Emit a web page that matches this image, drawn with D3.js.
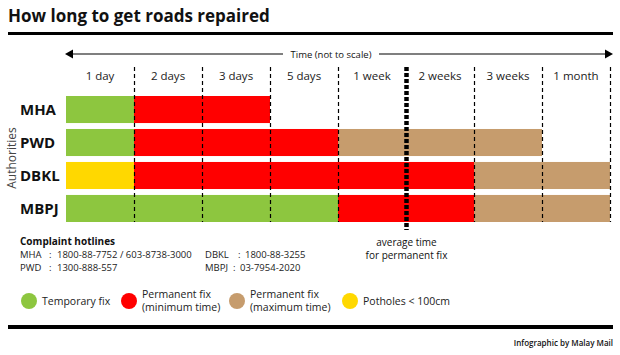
<!DOCTYPE html>
<html><head><meta charset="utf-8">
<script src="https://cdn.jsdelivr.net/npm/d3@7"></script>
<style>body{margin:0;background:#fff}svg{display:block}text{font-family:"Open Sans",sans-serif}</style>
</head><body><svg id="c" width="620" height="355"></svg>
<script>
const title = "How long to get roads repaired";
const columns = ["1 day","2 days","3 days","5 days","1 week","2 weeks","3 weeks","1 month"];
const authorities = ["MHA","PWD","DBKL","MBPJ"];
// last column each phase reaches (phase starts where the previous one ended)
const temporaryUntil = ["1 day","1 day","1 day","5 days"];
const temporaryType = ["temporary","temporary","pothole","temporary"];
const minimumUntil = ["3 days","5 days","2 weeks","2 weeks"];
const maximumUntil = [null,"3 weeks","1 month","1 month"];
const averagePermanent = "1 week"; // average time ends after this column
const hotlines = [
  ["MHA","1800-88-7752 / 603-8738-3000"],
  ["PWD","1300-888-557"],
  ["DBKL","1800-88-3255"],
  ["MBPJ","03-7954-2020"]
];
const legendItems = [
  {key:"temporary", lines:["Temporary fix"]},
  {key:"minimum", lines:["Permanent fix","(minimum time)"]},
  {key:"maximum", lines:["Permanent fix","(maximum time)"]},
  {key:"pothole", lines:["Potholes < 100cm"]}
];
const colors = {temporary:"#8dc63f", minimum:"#ff0000", maximum:"#c69c6d", pothole:"#ffd800"};

const svg = d3.select("#c");
const x = d3.scaleBand().domain(columns).range([66,610]).padding(0);
const y = d3.scaleBand().domain(authorities).range([96,222]).paddingInner(0.18).paddingOuter(0);
const xEnd = c => x(c) + x.bandwidth();

// title
svg.append("text").attr("x",8).attr("y",22).attr("font-size",17).attr("font-weight",700).attr("fill","#111").text(title);
svg.append("rect").attr("x",8).attr("y",32).attr("width",605).attr("height",3).attr("fill","#000");

// time arrow
const ay = 54;
svg.append("text").attr("x",331).attr("y",ay+3.5).attr("text-anchor","middle").attr("font-size",9.5).attr("fill","#111").text("Time (not to scale)");
svg.append("line").attr("x1",72).attr("x2",283).attr("y1",ay).attr("y2",ay).attr("stroke","#000").attr("stroke-width",1.2);
svg.append("line").attr("x1",379).attr("x2",606).attr("y1",ay).attr("y2",ay).attr("stroke","#000").attr("stroke-width",1.2);
svg.append("path").attr("d",`M65,${ay} L73,${ay-4.5} L73,${ay+4.5} Z`).attr("fill","#000");
svg.append("path").attr("d",`M613,${ay} L605,${ay-4.5} L605,${ay+4.5} Z`).attr("fill","#000");

// column labels
svg.selectAll(".col").data(columns).join("text")
  .attr("x",d=>x(d)+x.bandwidth()/2).attr("y",80).attr("text-anchor","middle")
  .attr("font-size",11.5).attr("fill","#222").text(d=>d);

// bars
const segs = [];
authorities.forEach((a,i)=>{
  segs.push({a, x0:x(columns[0]), x1:xEnd(temporaryUntil[i]), key:temporaryType[i]});
  segs.push({a, x0:xEnd(temporaryUntil[i]), x1:xEnd(minimumUntil[i]), key:"minimum"});
  if (maximumUntil[i]) segs.push({a, x0:xEnd(minimumUntil[i]), x1:xEnd(maximumUntil[i]), key:"maximum"});
});
svg.selectAll(".bar").data(segs).join("rect")
  .attr("x",d=>d.x0).attr("width",d=>d.x1-d.x0)
  .attr("y",d=>y(d.a)).attr("height",y.bandwidth())
  .attr("fill",d=>colors[d.key]);

// dashed column boundaries
const bounds = columns.filter(c=>c!==averagePermanent);
svg.selectAll(".grid").data(bounds).join("line")
  .attr("x1",d=>xEnd(d)+0.5).attr("x2",d=>xEnd(d)+0.5).attr("y1",67).attr("y2",222)
  .attr("stroke","#000").attr("stroke-width",1.2).attr("stroke-dasharray","4,3");
// average line
const avx = xEnd(averagePermanent)+0.5;
svg.append("line").attr("x1",avx).attr("x2",avx).attr("y1",67).attr("y2",230)
  .attr("stroke","#000").attr("stroke-width",4.5).attr("stroke-dasharray","4,2");
svg.append("text").attr("x",avx).attr("y",246).attr("text-anchor","middle").attr("font-size",10).attr("fill","#111").text("average time");
svg.append("text").attr("x",avx).attr("y",259).attr("text-anchor","middle").attr("font-size",10).attr("fill","#111").text("for permanent fix");

// row labels
svg.selectAll(".rl").data(authorities).join("text")
  .attr("x",20).attr("y",d=>y(d)+y.bandwidth()/2+5.5)
  .attr("font-family","Liberation Sans, Arial, sans-serif").attr("font-weight",700).attr("font-size",15).attr("fill","#111").text(d=>d);
svg.append("text").attr("transform","translate(16,158) rotate(-90)").attr("text-anchor","middle")
  .attr("font-size",12).attr("fill","#444").text("Authorities");

// hotlines
svg.append("text").attr("x",20).attr("y",245).attr("font-size",10).attr("font-weight",700).attr("fill","#111").text("Complaint hotlines");
const hx = [[20,49,57],[20,49,57],[205,238,245],[205,233,240]];
hotlines.forEach((h,i)=>{
  const row = i%2, yy = 258 + row*13;
  const g = svg.append("g");
  g.append("text").attr("x",hx[i][0]).attr("y",yy).attr("font-size",9.5).attr("fill","#222").text(h[0]);
  g.append("text").attr("x",hx[i][1]).attr("y",yy).attr("font-size",9.5).attr("fill","#222").text(":");
  g.append("text").attr("x",hx[i][2]).attr("y",yy).attr("font-size",9.5).attr("fill","#222").text(h[1]);
});

// legend
const lx = [29,129,237,350];
legendItems.forEach((it,i)=>{
  svg.append("circle").attr("cx",lx[i]).attr("cy",301).attr("r",8).attr("fill",colors[it.key]);
  it.lines.forEach((l,j)=>{
    const yy = it.lines.length===1 ? 305 : 298 + j*13;
    svg.append("text").attr("x",lx[i]+13).attr("y",yy).attr("font-size",10.5).attr("fill","#222").text(l);
  });
});

// footer
svg.append("rect").attr("x",8).attr("y",325).attr("width",605).attr("height",4).attr("fill","#000");
svg.append("text").attr("x",613).attr("y",346).attr("text-anchor","end").attr("font-size",8).attr("font-weight",600).attr("fill","#111").text("Infographic by Malay Mail");
</script></body></html>
